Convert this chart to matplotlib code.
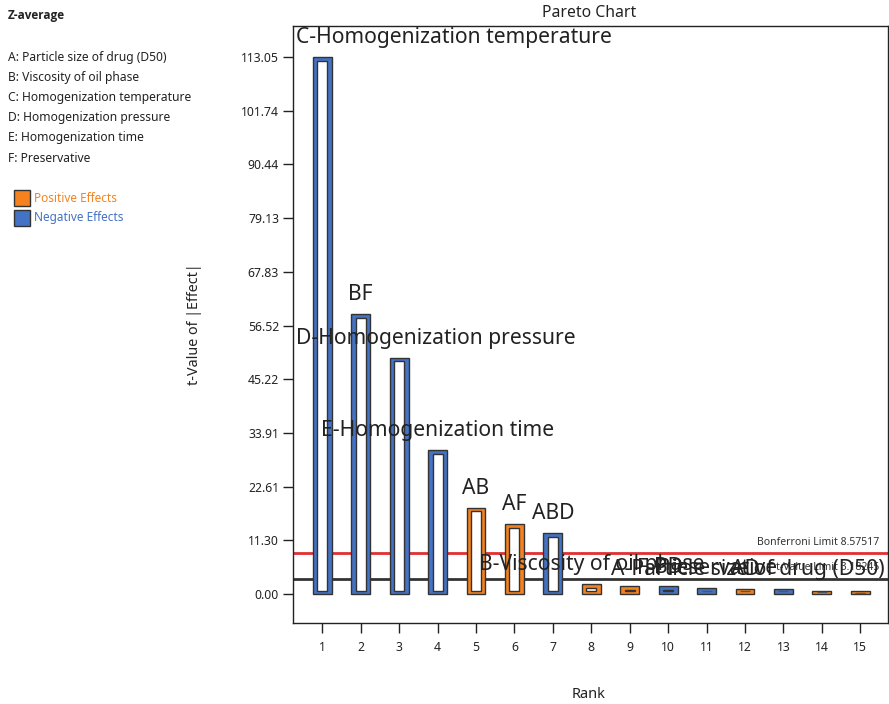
import matplotlib
matplotlib.use('Agg')
import matplotlib.pyplot as plt
from matplotlib.transforms import offset_copy, blended_transform_factory

plt.rcParams['font.family'] = ['Noto Sans', 'DejaVu Sans']

# Pareto data
ranks = list(range(1, 16))
t_values = [113.05, 58.9, 49.7, 30.3, 18.1, 14.7, 12.8, 2.03, 1.62, 1.60, 1.2, 1.15, 1.1, 0.7, 0.6]
signs = ['-', '-', '-', '-', '+', '+', '-', '+', '+', '-', '-', '+', '-', '+', '+']
term_labels = ['C-Homogenization temperature', 'BF', 'D-Homogenization pressure',
               'E-Homogenization time', 'AB', 'AF', 'ABD', 'B-Viscosity of oil phase',
               '', 'BD', 'F-Preservative', 'AD', 'A-Particle size of drug (D50)', '', '']
factor_names = ['A: Particle size of drug (D50)', 'B: Viscosity of oil phase',
                'C: Homogenization temperature', 'D: Homogenization pressure',
                'E: Homogenization time', 'F: Preservative']
ytick_vals = [0.00, 11.30, 22.61, 33.91, 45.22, 56.52, 67.83, 79.13, 90.44, 101.74, 113.05]
bonferroni = 8.57517
t_limit = 3.18245

orange = '#F5821F'
blue = '#4472C4'
edge = '#333333'

fig = plt.figure(figsize=(8.89, 7.04), dpi=100)
ax = fig.add_axes([293 / 889, 81 / 704, 595 / 889, 597 / 704])

colors = [orange if s == '+' else blue for s in signs]
ax.bar(ranks, t_values, width=0.49, color=colors, edgecolor=edge, linewidth=1, zorder=3)

# white inner box of each bar
inset_y = 0.72
for r, h in zip(ranks, t_values):
    ih = h - 2 * inset_y
    if ih > 0:
        ax.bar(r, ih, width=0.26, bottom=inset_y, color='white', edgecolor=edge,
               linewidth=1, zorder=4)
    else:
        ax.bar(r, 0, width=0.26, bottom=h / 2, color='#777777', edgecolor='#555555',
               linewidth=1, zorder=4)

ax.axhline(bonferroni, color='#E03030', lw=2, zorder=2)
ax.axhline(t_limit, color='#333333', lw=2, zorder=2)
bt = blended_transform_factory(ax.transAxes, ax.transData)
ax.annotate(f'Bonferroni Limit {bonferroni}', xy=(1, bonferroni), xycoords=bt,
            xytext=(-6, 4), textcoords='offset points', ha='right', va='bottom',
            fontsize=7.5, color='#333333')
ax.annotate(f't-Value Limit {t_limit}', xy=(1, t_limit), xycoords=bt,
            xytext=(-6, 4), textcoords='offset points', ha='right', va='bottom',
            fontsize=7.5, color='#333333')

ax.set_xlim(0.24, 15.72)
ax.set_ylim(-6.1, 119.6)
ax.set_xticks(ranks)
ax.set_yticks(ytick_vals)
ax.set_yticklabels([f'{v:.2f}' for v in ytick_vals])
ax.tick_params(axis='y', length=7, width=1, labelsize=8.8, pad=3, colors='#222222')
ax.tick_params(axis='x', length=7, width=1, labelsize=8.8, pad=6, colors='#222222')
for sp in ax.spines.values():
    sp.set_color('#222222')
    sp.set_linewidth(1)

# term labels above the bars, kept inside the plot box
texts = []
for r, h, lab in zip(ranks, t_values, term_labels):
    if not lab:
        continue
    tr = offset_copy(ax.transData, fig=fig, x=0, y=10, units='points')
    t = ax.text(r, h, lab, ha='center', va='baseline', fontsize=15.2,
                color='#222222', transform=tr, zorder=6)
    texts.append((t, r, h))

fig.canvas.draw()
rend = fig.canvas.get_renderer()
abox = ax.get_window_extent(rend)
for t, r, h in texts:
    bb = t.get_window_extent(rend)
    dx = 0
    if bb.x0 < abox.x0 + 3:
        dx = abox.x0 + 3 - bb.x0
    elif bb.x1 > abox.x1 - 3:
        dx = abox.x1 - 3 - bb.x1
    if dx:
        t.set_transform(offset_copy(ax.transData, fig=fig, x=dx * 72 / fig.dpi,
                                    y=10, units='points'))

fig.text(589 / 889, 1 - 13 / 704, 'Pareto Chart', ha='center', va='center',
         fontsize=11.3, color='#222222')
fig.text(589 / 889, 1 - 694 / 704, 'Rank', ha='center', va='center',
         fontsize=10.5, color='#222222')
fig.text(195 / 889, 1 - 324 / 704, 't-Value of |Effect|', ha='center', va='center',
         rotation=90, fontsize=10.3, color='#222222')

# left side panel
fig.text(8 / 889, 1 - 16 / 704, 'Z-average', ha='left', va='center',
         fontsize=8.5, fontweight='bold', family=['Open Sans', 'DejaVu Sans'],
         color='#222222')
for i, name in enumerate(factor_names):
    fig.text(8 / 889, 1 - (57 + 20.2 * i) / 704, name, ha='left', va='center',
             fontsize=8.7, color='#222222')

for j, (lab, col) in enumerate([('Positive Effects', orange), ('Negative Effects', blue)]):
    yc = 198 + 20 * j
    fig.patches.append(plt.Rectangle((14 / 889, 1 - (yc + 8) / 704), 16 / 889, 16 / 704,
                                     transform=fig.transFigure, facecolor=col,
                                     edgecolor=edge, linewidth=1))
    fig.text(34 / 889, 1 - yc / 704, lab, ha='left', va='center', fontsize=8.5, color=col)

fig.savefig('out.png', dpi=100)
